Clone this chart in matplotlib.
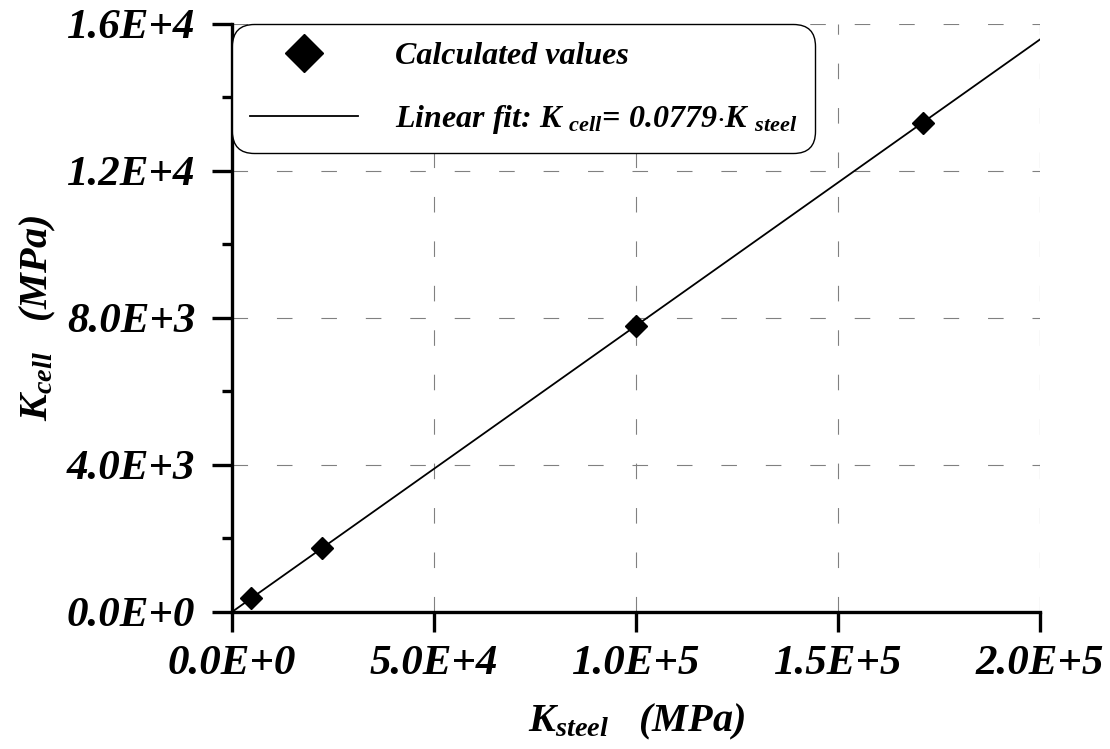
import numpy as np
import matplotlib.pyplot as plt

plt.rcParams['font.family'] = 'Liberation Serif'
plt.rcParams['font.weight'] = 'bold'
plt.rcParams['font.style'] = 'italic'
plt.rcParams['mathtext.fontset'] = 'custom'
plt.rcParams['mathtext.rm'] = 'Liberation Serif:bold:italic'
plt.rcParams['mathtext.it'] = 'Liberation Serif:bold:italic'
plt.rcParams['mathtext.bf'] = 'Liberation Serif:bold:italic'

# calculated cell stiffness vs steel stiffness [MPa]
K_steel = [4700, 22300, 100000, 171000]
K_cell = [366, 1740, 7790, 13310]
slope = 0.0779
fit_x = [0, 200000]

x_ticks = [0, 50000, 100000, 150000, 200000]
x_labels = ["0.0E+0", "5.0E+4", "1.0E+5", "1.5E+5", "2.0E+5"]
y_ticks = [0, 4000, 8000, 12000, 16000]
y_labels = ["0.0E+0", "4.0E+3", "8.0E+3", "1.2E+4", "1.6E+4"]

fig = plt.figure(figsize=(11.1, 7.49), dpi=100)
ax = fig.add_axes([0.209, 0.183, 0.728, 0.785])

fit_y = [slope * v for v in fit_x]
ax.plot(fit_x, fit_y, color="black", lw=1.3, label=r"Linear fit: K $_{cell}$= 0.0779$\cdot$K $_{steel}$", zorder=3)
ax.plot(K_steel, K_cell, ls="none", marker="D", ms=11, color="black",
        label="Calculated values", zorder=4)

ax.set_xlim(0, 200000)
ax.set_ylim(0, 16000)
ax.set_xticks(x_ticks)
ax.set_xticklabels(x_labels)
ax.set_yticks(y_ticks)
ax.set_yticklabels(y_labels)
ax.set_yticks([2000, 6000, 10000, 14000], minor=True)

ax.grid(True, which="major", color="#808080", lw=0.8, linestyle=(0, (14, 26)))

for s in ["top", "right"]:
    ax.spines[s].set_visible(False)
for s in ["left", "bottom"]:
    ax.spines[s].set_linewidth(2.4)

ax.tick_params(which="major", direction="out", length=14.5, width=2.4, labelsize=31, pad=9)
ax.tick_params(which="minor", direction="out", length=7, width=2.4)
ax.tick_params(axis="y", which="major", pad=12)

ax.set_xlabel(r"K$_{steel}$   (MPa)", fontsize=29, fontweight="bold", labelpad=14)
ax.set_ylabel(r"K$_{cell}$   (MPa)", fontsize=29, fontweight="bold", labelpad=6)

h, l = ax.get_legend_handles_labels()
leg = ax.legend(h[::-1], l[::-1], loc="upper left", bbox_to_anchor=(0.0, 1.0),
                fontsize=23, handlelength=3.4, handletextpad=1.15, labelspacing=1.0,
                borderpad=0.55, markerscale=1.8, fancybox=True, framealpha=1,
                edgecolor="black", borderaxespad=0.0)
leg.get_frame().set_linewidth(1.0)
leg.get_frame().set_boxstyle("round,pad=0,rounding_size=0.7")

fig.savefig("out.png", dpi=100)
